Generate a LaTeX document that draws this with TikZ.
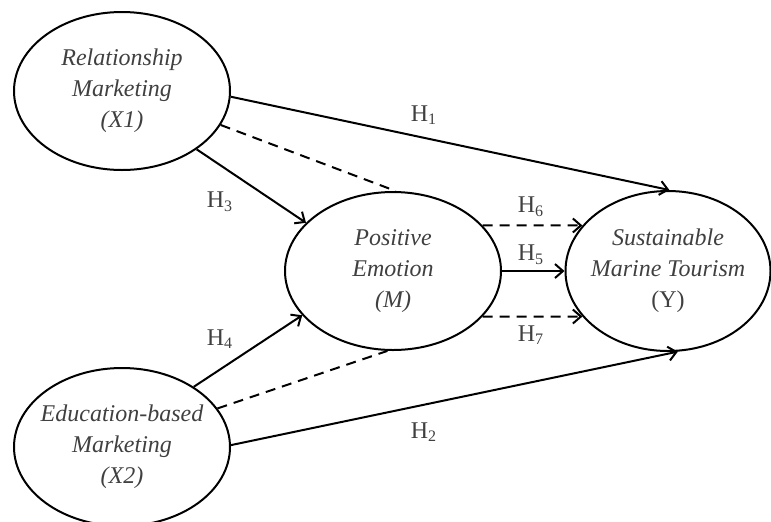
\documentclass[tikz,border=0pt]{standalone}
\usepackage{fontspec}
\setmainfont{Liberation Serif}
\usetikzlibrary{shapes.geometric,arrows.meta}

\tikzset{
  construct/.style={ellipse, draw, line width=1pt, minimum width=108pt, minimum height=79pt,
    inner xsep=-4pt, inner ysep=0pt, align=center, text=black!75,
    font=\fontsize{12}{15.5}\selectfont\itshape},
  link/.style={line width=1pt, -{Straight Barb[length=4pt,width=7pt]}},
  dashline/.style={line width=1pt, dash pattern=on 5pt off 3.5pt},
  hlab/.style={inner sep=0pt, text=black!75, font=\fontsize{12}{14}\selectfont}
}

\begin{document}
\begin{tikzpicture}[x=0.5pt,y=-0.5pt]
\useasboundingbox (0,0) rectangle (771,521); % frame of the picture

% constructs
\node[construct] (X1) at (122,91) {Relationship\\Marketing\\(X1)};
\node[construct] (X2) at (122,447) {Education-based\\Marketing\\(X2)};
\node[construct] (M) at (393,271) {Positive\\Emotion\\(M)};
\node[construct, minimum width=102.5pt, minimum height=80pt] (Y) at (668,271) {Sustainable\\Marine Tourism\\{\upshape(Y)}};

% direct paths
\draw[link] (X1.-3) -- (Y.89); % H1
\draw[link] (X2.1) -- (Y.277); % H2
\draw[link] (X1.-38) -- (M.151); % H3
\draw[link] (X2.40) -- (M.206); % H4
\draw[link] (M.0) -- (Y.180); % H5

% mediated paths
\draw[dashline] (X1.-19) -- (M.88);
\draw[dashline] (X2.22) -- (M.266);
\draw[link,dashline] (M.27) -- (Y.152); % H6
\draw[link,dashline] (M.-27) -- (Y.208); % H7

% labels
\node[hlab] (h1) at (424,115) {H\textsubscript{1}};
\node[hlab] (h2) at (424,432) {H\textsubscript{2}};
\node[hlab] (h3) at (220,202) {H\textsubscript{3}};
\node[hlab] (h4) at (220,339) {H\textsubscript{4}};
\node[hlab] (h5) at (531,255) {H\textsubscript{5}};
\node[hlab] (h6) at (531,207) {H\textsubscript{6}};
\node[hlab] (h7) at (531,335) {H\textsubscript{7}};
\end{tikzpicture}
\end{document}
